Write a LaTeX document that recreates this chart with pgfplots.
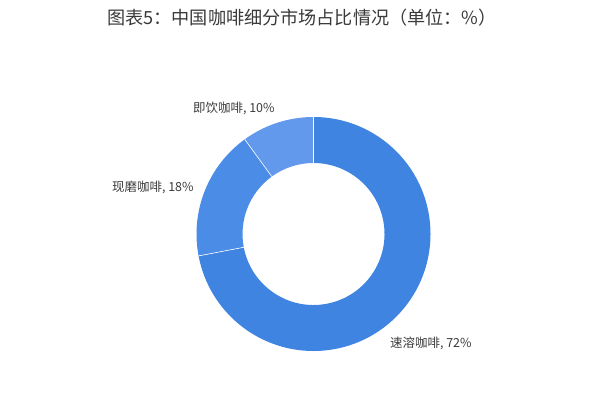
\documentclass[border=0pt]{standalone}
\usepackage{fontspec}
\setmainfont{Noto Sans CJK SC}
\usepackage{pgfplots}
\pgfplotsset{compat=1.18}
\definecolor{cInstant}{HTML}{3F84E0}
\definecolor{cGround}{HTML}{4B8CE6}
\definecolor{cRTD}{HTML}{6399EC}
\definecolor{txt}{HTML}{3A3A3A}

% shares (%) : instant, freshly ground, ready-to-drink
\def\vA{72}
\def\vB{18}
\def\vC{10}

\begin{document}
\begin{tikzpicture}
\pgfmathsetmacro\aA{90}
\pgfmathsetmacro\aB{90-3.6*\vA}
\pgfmathsetmacro\aC{\aB-3.6*\vB}
\pgfmathsetmacro\aD{\aC-3.6*\vC}
\begin{axis}[
    x=1bp, y=1bp,
    xmin=0, xmax=600, ymin=0, ymax=407,
    hide axis, clip=false,
]
\path (axis cs:0,0) rectangle (axis cs:600,407);

\begin{scope}[shift={(axis cs:313.5,173)}]
  \fill[cInstant] (\aA:117bp) arc[start angle=\aA, end angle=\aB, radius=117bp]
     -- (\aB:71bp) arc[start angle=\aB, end angle=\aA, radius=71bp] -- cycle;
  \fill[cGround] (\aB:117bp) arc[start angle=\aB, end angle=\aC, radius=117bp]
     -- (\aC:71bp) arc[start angle=\aC, end angle=\aB, radius=71bp] -- cycle;
  \fill[cRTD] (\aC:117bp) arc[start angle=\aC, end angle=\aD, radius=117bp]
     -- (\aD:71bp) arc[start angle=\aD, end angle=\aC, radius=71bp] -- cycle;
  \draw[white, line width=0.6pt] (\aA:71bp) -- (\aA:117bp);
  \draw[white, line width=0.6pt] (\aB:71bp) -- (\aB:117bp);
  \draw[white, line width=0.6pt] (\aC:71bp) -- (\aC:117bp);
\end{scope}

\node[font=\fontsize{18.2}{21}\selectfont, text=txt] at (axis cs:302,389)
  {图表5：中国咖啡细分市场占比情况（单位：\%）};

\begin{scope}[font=\fontsize{12.5}{14}\selectfont, text=txt, inner sep=0pt]
\node[anchor=west] at (axis cs:193,299) {即饮咖啡, \vC\%};
\node[anchor=west] at (axis cs:112,220) {现磨咖啡, \vB\%};
\node[anchor=west] at (axis cs:390,64) {速溶咖啡, \vA\%};
\end{scope}
\end{axis}
\end{tikzpicture}
\end{document}
